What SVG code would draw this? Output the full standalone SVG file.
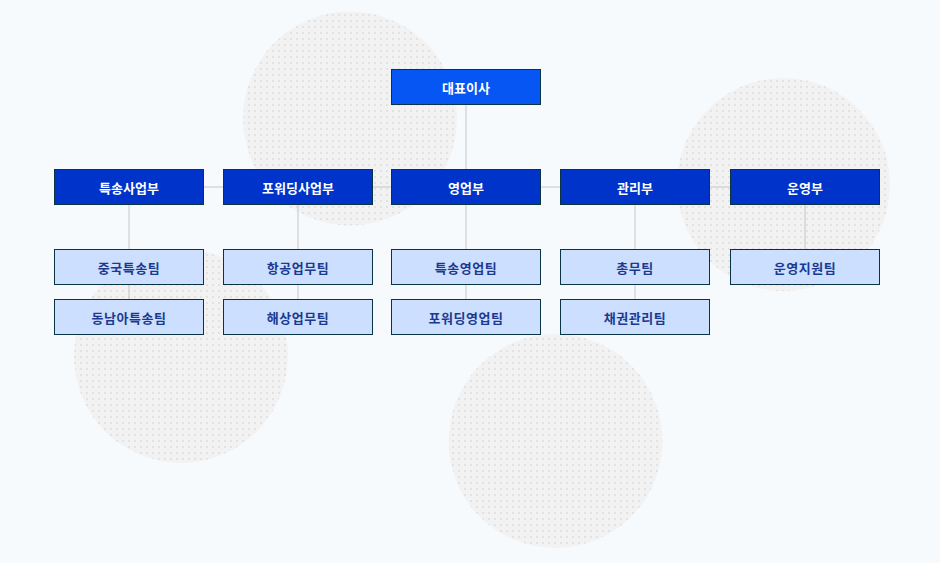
<svg xmlns="http://www.w3.org/2000/svg" width="940" height="563" viewBox="0 0 940 563">
<defs>
<pattern id="dots" width="6" height="6" patternUnits="userSpaceOnUse">
<rect x="2" y="2" width="2" height="2" fill="#e2e2e2"/>
</pattern>
<style>
.bg{fill:#f7fafd}
.circ{fill:#f2f2f2}
.dot{fill:url(#dots)}
.line{stroke:#c6c6c6;stroke-width:1;fill:none}
.ceo rect{fill:#0556f3;stroke:#0a3344;stroke-width:1}
.dept rect{fill:#0033c9;stroke:#0a3344;stroke-width:1}
.team rect{fill:#cddfff;stroke:#0a3344;stroke-width:1}
text{font-family:"Noto Sans CJK KR","Noto Sans",sans-serif;font-size:13px;font-weight:bold;text-anchor:middle;dominant-baseline:central}
.ceo text,.dept text{fill:#ffffff}
.team text{fill:#1b3a8f;letter-spacing:0.5px}
</style>
</defs>
<rect class="bg" x="0" y="0" width="940" height="563"/>
<g id="background">
<circle class="circ" cx="350" cy="118.5" r="107"/>
<circle class="dot" cx="350" cy="118.5" r="107"/>
<circle class="circ" cx="783.5" cy="184.5" r="106.5"/>
<circle class="dot" cx="783.5" cy="184.5" r="106.5"/>
<circle class="circ" cx="181" cy="356" r="107"/>
<circle class="dot" cx="181" cy="356" r="107"/>
<circle class="circ" cx="555.5" cy="441" r="107"/>
<circle class="dot" cx="555.5" cy="441" r="107"/>
</g>
<g id="connectors">
<line class="line" x1="466" y1="104" x2="466" y2="169"/>
<line class="line" x1="129" y1="187" x2="805" y2="187"/>
<line class="line" x1="129" y1="204" x2="129" y2="299"/>
<line class="line" x1="298" y1="204" x2="298" y2="299"/>
<line class="line" x1="466" y1="204" x2="466" y2="299"/>
<line class="line" x1="635" y1="204" x2="635" y2="299"/>
<line class="line" x1="805" y1="204" x2="805" y2="249"/>
</g>
<g id="ceo" class="ceo"><rect x="391.5" y="69.5" width="149" height="35"/><text x="466" y="87">대표이사</text></g>
<g id="dept1" class="dept"><rect x="54.5" y="169.5" width="149" height="35"/><text x="129" y="187">특송사업부</text></g>
<g id="dept2" class="dept"><rect x="223.5" y="169.5" width="149" height="35"/><text x="298" y="187">포워딩사업부</text></g>
<g id="dept3" class="dept"><rect x="391.5" y="169.5" width="149" height="35"/><text x="466" y="187">영업부</text></g>
<g id="dept4" class="dept"><rect x="560.5" y="169.5" width="149" height="35"/><text x="635" y="187">관리부</text></g>
<g id="dept5" class="dept"><rect x="730.5" y="169.5" width="149" height="35"/><text x="805" y="187">운영부</text></g>
<g id="team1a" class="team"><rect x="54.5" y="249.5" width="149" height="35"/><text x="129" y="267">중국특송팀</text></g>
<g id="team1b" class="team"><rect x="54.5" y="299.5" width="149" height="35"/><text x="129" y="317">동남아특송팀</text></g>
<g id="team2a" class="team"><rect x="223.5" y="249.5" width="149" height="35"/><text x="298" y="267">항공업무팀</text></g>
<g id="team2b" class="team"><rect x="223.5" y="299.5" width="149" height="35"/><text x="298" y="317">해상업무팀</text></g>
<g id="team3a" class="team"><rect x="391.5" y="249.5" width="149" height="35"/><text x="466" y="267">특송영업팀</text></g>
<g id="team3b" class="team"><rect x="391.5" y="299.5" width="149" height="35"/><text x="466" y="317">포워딩영업팀</text></g>
<g id="team4a" class="team"><rect x="560.5" y="249.5" width="149" height="35"/><text x="635" y="267">총무팀</text></g>
<g id="team4b" class="team"><rect x="560.5" y="299.5" width="149" height="35"/><text x="635" y="317">채권관리팀</text></g>
<g id="team5a" class="team"><rect x="730.5" y="249.5" width="149" height="35"/><text x="805" y="267">운영지원팀</text></g>
</svg>
